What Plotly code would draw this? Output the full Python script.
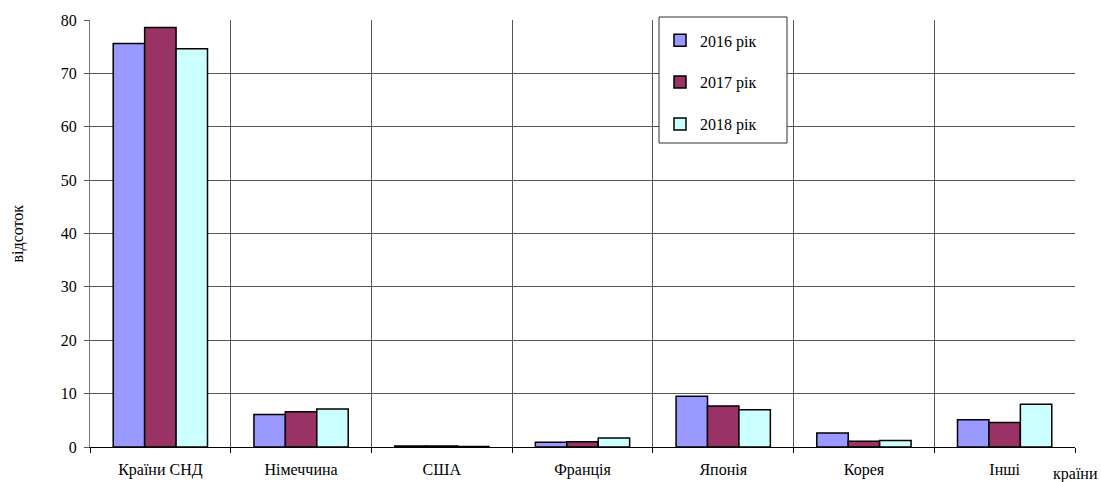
import plotly.graph_objects as go

# Share of imports by country group, percent
countries = ["Країни СНД", "Німеччина", "США", "Франція", "Японія", "Корея", "Інші"]
years = ["2016 рік", "2017 рік", "2018 рік"]
share_2016 = [75.6, 6.1, 0.2, 0.9, 9.5, 2.6, 5.1]
share_2017 = [78.6, 6.6, 0.2, 1.0, 7.7, 1.1, 4.6]
share_2018 = [74.6, 7.1, 0.1, 1.7, 7.0, 1.2, 8.0]
colors = ["#9999FF", "#993366", "#CCFFFF"]

FONT = "Times New Roman, Liberation Serif, DejaVu Serif, serif"
FS = 16

fig = go.Figure()
for i, (name, vals) in enumerate(zip(years, [share_2016, share_2017, share_2018])):
    fig.add_trace(go.Bar(
        x=countries, y=vals, name=name,
        marker=dict(color=colors[i], line=dict(color="#000000", width=1.5)),
        legendgroup=name,
    ))

fig.update_layout(
    width=1101, height=482,
    margin=dict(l=90, r=26, t=20, b=35),
    paper_bgcolor="white", plot_bgcolor="white",
    font=dict(family=FONT, size=FS, color="#000000"),
    barmode="group", bargap=0.33, bargroupgap=0,
    showlegend=True,
    legend=dict(
        x=(660 - 90) / 985, y=0.992, xanchor="left", yanchor="top",
        bgcolor="rgba(0,0,0,0)", borderwidth=0,
        font=dict(family=FONT, size=FS),
        tracegroupgap=18, traceorder="grouped",
    ),
    xaxis=dict(
        type="category", tickson="boundaries", ticks="outside", ticklen=5,
        tickcolor="#000000", showgrid=True, gridcolor="#555555", gridwidth=1,
        showline=True, linecolor="#000000", linewidth=1, automargin=False,
        tickfont=dict(family=FONT, size=FS), ticklabelstandoff=8,
    ),
    yaxis=dict(
        range=[0, 80], dtick=10, ticks="outside", ticklen=5, tickcolor="#555555",
        showgrid=True, gridcolor="#555555", gridwidth=1,
        showline=True, linecolor="#777777", linewidth=1, automargin=False,
        zeroline=True, zerolinecolor="#000000", zerolinewidth=1,
        tickfont=dict(family=FONT, size=FS), ticklabelstandoff=4,
    ),
    shapes=[dict(
        type="rect", xref="paper", yref="paper",
        x0=(659 - 90) / 985, x1=(787 - 90) / 985,
        y0=(447 - 143) / 427, y1=(447 - 17) / 427,
        fillcolor="white", line=dict(color="#333333", width=1), layer="above",
    )],
    annotations=[
        dict(text="відсоток", xref="paper", yref="paper", x=(17 - 90) / 985, y=0.5,
             xanchor="center", yanchor="middle",
             textangle=-90, showarrow=False, font=dict(family=FONT, size=FS)),
        dict(text="країни", xref="paper", yref="paper", x=1.0, y=(447 - 474) / 427,
             xanchor="center", yanchor="middle", showarrow=False,
             font=dict(family=FONT, size=FS)),
    ],
)

fig.write_html("out.html")
